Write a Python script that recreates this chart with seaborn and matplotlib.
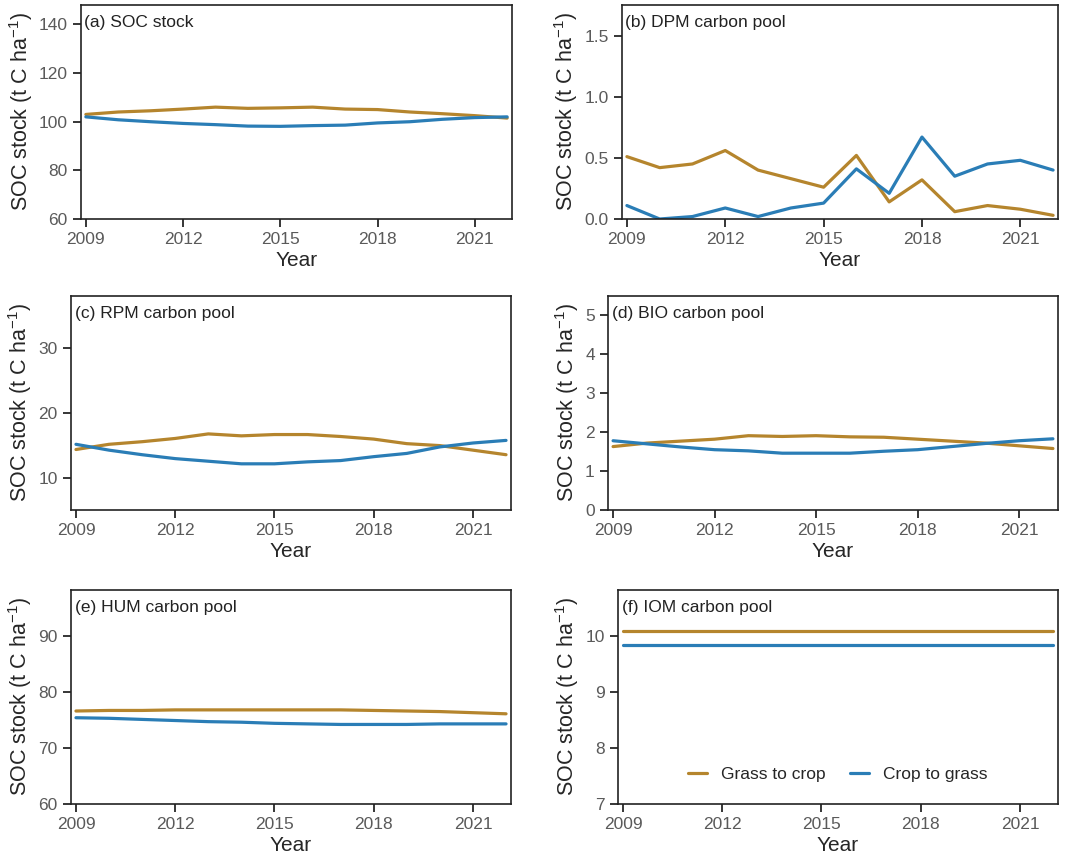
import numpy as np
import pandas as pd
import matplotlib
matplotlib.use('Agg')
import matplotlib.pyplot as plt
import seaborn as sns

sns.set_style('ticks')
plt.rcParams['font.family'] = ['Liberation Sans', 'DejaVu Sans']
plt.rcParams['mathtext.fontset'] = 'custom'
plt.rcParams['mathtext.rm'] = 'Liberation Sans'
plt.rcParams['mathtext.default'] = 'regular'

years = list(range(2009, 2023))

# (a) SOC stock
soc_g2c = [103.0, 104.0, 104.5, 105.2, 106.0, 105.5, 105.7, 106.0, 105.2, 105.0, 104.0, 103.3, 102.5, 101.5]
soc_c2g = [102.0, 100.8, 100.0, 99.3, 98.8, 98.2, 98.1, 98.4, 98.6, 99.5, 100.0, 101.0, 101.7, 102.0]
# (b) DPM
dpm_g2c = [0.51, 0.42, 0.45, 0.56, 0.40, 0.33, 0.26, 0.52, 0.14, 0.32, 0.06, 0.11, 0.08, 0.03]
dpm_c2g = [0.11, 0.00, 0.02, 0.09, 0.02, 0.09, 0.13, 0.41, 0.21, 0.67, 0.35, 0.45, 0.48, 0.40]
# (c) RPM
rpm_g2c = [14.4, 15.2, 15.6, 16.1, 16.8, 16.5, 16.7, 16.7, 16.4, 16.0, 15.3, 15.0, 14.3, 13.6]
rpm_c2g = [15.2, 14.3, 13.6, 13.0, 12.6, 12.2, 12.2, 12.5, 12.7, 13.3, 13.8, 14.8, 15.4, 15.8]
# (d) BIO
bio_g2c = [1.63, 1.72, 1.77, 1.82, 1.91, 1.89, 1.91, 1.88, 1.87, 1.82, 1.77, 1.72, 1.65, 1.58]
bio_c2g = [1.78, 1.70, 1.62, 1.55, 1.52, 1.46, 1.46, 1.46, 1.51, 1.55, 1.63, 1.71, 1.78, 1.83]
# (e) HUM
hum_g2c = [76.6, 76.7, 76.7, 76.8, 76.8, 76.8, 76.8, 76.8, 76.8, 76.7, 76.6, 76.5, 76.3, 76.1]
hum_c2g = [75.4, 75.3, 75.1, 74.9, 74.7, 74.6, 74.4, 74.3, 74.2, 74.2, 74.2, 74.3, 74.3, 74.3]
# (f) IOM
iom_g2c = [10.08] * 14
iom_c2g = [9.83] * 14

titles = ['(a) SOC stock', '(b) DPM carbon pool', '(c) RPM carbon pool',
          '(d) BIO carbon pool', '(e) HUM carbon pool', '(f) IOM carbon pool']
series = [(soc_g2c, soc_c2g), (dpm_g2c, dpm_c2g), (rpm_g2c, rpm_c2g),
          (bio_g2c, bio_c2g), (hum_g2c, hum_c2g), (iom_g2c, iom_c2g)]
ylims = [(60, 148), (0, 1.75), (5.1, 38), (0, 5.5), (60, 98.2), (7, 10.82)]
yticks = [[60, 80, 100, 120, 140], [0, 0.5, 1.0, 1.5], [10, 20, 30],
          [0, 1, 2, 3, 4, 5], [60, 70, 80, 90], [7, 8, 9, 10]]
yfmt = [None, '%.1f', None, None, None, None]

pal = {'Grass to crop': '#B5852D', 'Crop to grass': '#2A7DB6'}

W, H = 1080, 861
# axes boxes in pixels: left, right, top, bottom
boxes = [(81, 512, 5, 219), (622, 1058, 5, 219),
         (71, 511, 296, 510), (608, 1058, 296, 510),
         (71, 511, 590, 804), (618, 1058, 590, 804)]

fig = plt.figure(figsize=(W / 100, H / 100), dpi=100)

for i in range(6):
    l, r, t, b = boxes[i]
    ax = fig.add_axes([l / W, 1 - b / H, (r - l) / W, (b - t) / H])
    g, c = series[i]
    df = pd.DataFrame({'Year': years * 2,
                       'value': g + c,
                       'Scenario': ['Grass to crop'] * 14 + ['Crop to grass'] * 14})
    sns.lineplot(data=df, x='Year', y='value', hue='Scenario', palette=pal,
                 linewidth=2.3, ax=ax, legend=(i == 5))
    ax.set_xlim(2008.85, 2022.15)
    ax.set_ylim(*ylims[i])
    ax.set_xticks([2009, 2012, 2015, 2018, 2021])
    ax.set_yticks(yticks[i])
    if yfmt[i]:
        ax.yaxis.set_major_formatter(matplotlib.ticker.FormatStrFormatter(yfmt[i]))
    ax.tick_params(axis='both', labelsize=12.5, labelcolor='#5a5a5a', color='black',
                   length=6, width=1.1, direction='out')
    for s in ax.spines.values():
        s.set_visible(True)
        s.set_linewidth(1.2)
        s.set_color('#222222')
    ax.set_xlabel('Year', fontsize=15, labelpad=3)
    ax.set_ylabel('SOC stock (t C ha$^{-1}$)', fontsize=15.5, labelpad=3)
    ax.text(0.008, 0.955, titles[i], transform=ax.transAxes, ha='left', va='top',
            fontsize=12.5, color='#222222')
    if i == 5:
        ax.legend(loc='lower center', bbox_to_anchor=(0.5, 0.03), ncol=2,
                  frameon=False, fontsize=12.5, handlelength=1.1, columnspacing=1.4,
                  title=None)

fig.savefig('out.png', dpi=100)
